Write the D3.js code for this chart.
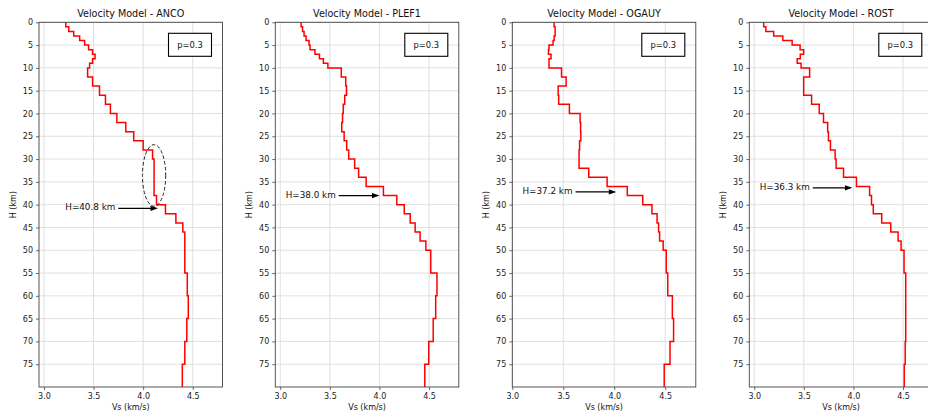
<!DOCTYPE html>
<html>
<head>
<meta charset="utf-8">
<script src="https://cdn.jsdelivr.net/npm/d3@7/dist/d3.min.js"></script>
<style>
  html, body { margin: 0; padding: 0; background: #fff; }
  svg { display: block; font-family: "DejaVu Sans", sans-serif; }
</style>
</head>
<body>
<svg id="chart" width="928" height="411"></svg>
<script>
// Shear-wave velocity models (Vs, km/s) for four stations, layered by depth (km)
const stations = ["ANCO", "PLEF1", "OGAUY", "ROST"];

// Top of each layer (km); the last layer ends at modelBase
const layerTops = [0, 1, 2, 3, 4, 5, 6, 7, 8, 9,
  10, 12, 14, 16, 18, 20, 22, 24, 26, 28,
  30, 32, 34, 36, 38, 40, 42, 44, 46, 48,
  50, 55, 60, 65, 70, 75];
const modelBase = 80;

const vsANCO = [3.22, 3.25, 3.30, 3.36, 3.41, 3.45, 3.49, 3.515, 3.49, 3.46,
  3.44, 3.49, 3.56, 3.62, 3.67, 3.735, 3.825, 3.905, 4.00, 4.095,
  4.11, 4.11, 4.11, 4.11, 4.135, 4.225, 4.33, 4.40, 4.42, 4.42,
  4.42, 4.445, 4.455, 4.44, 4.42, 4.395];
const vsPLEF1 = [3.21, 3.225, 3.24, 3.26, 3.29, 3.30, 3.35, 3.395, 3.435, 3.48,
  3.615, 3.66, 3.668, 3.65, 3.635, 3.628, 3.62, 3.644, 3.67, 3.69,
  3.75, 3.79, 3.866, 4.04, 4.175, 4.25, 4.31, 4.36, 4.41, 4.468,
  4.517, 4.58, 4.567, 4.542, 4.497, 4.457];
const vsOGAUY = [3.41, 3.42, 3.42, 3.41, 3.40, 3.36, 3.355, 3.38, 3.36, 3.36,
  3.483, 3.528, 3.45, 3.455, 3.56, 3.665, 3.67, 3.672, 3.66, 3.655,
  3.655, 3.75, 3.93, 4.128, 4.28, 4.37, 4.42, 4.435, 4.445, 4.48,
  4.51, 4.525, 4.57, 4.582, 4.547, 4.49];
const vsROST = [3.095, 3.117, 3.196, 3.288, 3.382, 3.462, 3.498, 3.464, 3.433, 3.472,
  3.558, 3.498, 3.498, 3.578, 3.655, 3.698, 3.74, 3.748, 3.768, 3.815,
  3.825, 3.9, 4.03, 4.163, 4.182, 4.2, 4.285, 4.376, 4.45, 4.48,
  4.51, 4.527, 4.527, 4.527, 4.522, 4.512];
const vsModels = [vsANCO, vsPLEF1, vsOGAUY, vsROST];

// Moho depth picks and where their labels / arrows sit
const mohoDepth = [40.8, 38.0, 37.2, 36.3];
const arrowTipVs = [4.15, 4.0, 4.02, 3.99];
const labelVs = [3.215, 3.055, 3.10, 3.055];
const paramLabel = "p=0.3";

// Highlighted zone on the ANCO model (centre and full size in data units)
const zoneCentre = [4.11, 33.6];
const zoneSize = [0.235, 13.5];

// Axis ranges and ticks
const vsMin = [2.95, 2.95, 3.0, 2.95];
const vsMax = 4.8;
const vsTicks = [3.0, 3.5, 4.0, 4.5];
const depthTicks = [0, 5, 10, 15, 20, 25, 30, 35, 40, 45, 50, 55, 60, 65, 70, 75];

// Panel geometry
const panelLeft = [39, 275.3, 512.3, 749.3];
const panelTop = 22.3, panelW = 183.5, panelH = 364.7;

const svg = d3.select("#chart");

stations.forEach((name, i) => {
  const g = svg.append("g").attr("transform", `translate(${panelLeft[i]},${panelTop})`);
  const x = d3.scaleLinear().domain([vsMin[i], vsMax]).range([0, panelW]);
  const y = d3.scaleLinear().domain([0, modelBase]).range([0, panelH]);

  // grid
  g.append("g").selectAll("line").data(vsTicks).join("line")
    .attr("x1", d => x(d)).attr("x2", d => x(d))
    .attr("y1", 0).attr("y2", panelH)
    .attr("stroke", "#dcdcdc").attr("stroke-width", 0.9);
  g.append("g").selectAll("line").data(depthTicks).join("line")
    .attr("y1", d => y(d)).attr("y2", d => y(d))
    .attr("x1", 0).attr("x2", panelW)
    .attr("stroke", "#dcdcdc").attr("stroke-width", 0.9);

  // axes
  const xAxis = d3.axisBottom(x).tickValues(vsTicks).tickFormat(d3.format(".1f"))
    .tickSize(3).tickPadding(3);
  const yAxis = d3.axisLeft(y).tickValues(depthTicks).tickFormat(d3.format("d"))
    .tickSize(3).tickPadding(3);
  const gx = g.append("g").attr("transform", `translate(0,${panelH})`).call(xAxis);
  const gy = g.append("g").call(yAxis);
  [gx, gy].forEach(a => {
    a.select(".domain").remove();
    a.selectAll(".tick line").attr("stroke", "#444").attr("stroke-width", 0.8);
    a.selectAll(".tick text").attr("fill", "#222").attr("font-size", 8)
      .attr("font-family", "DejaVu Sans, sans-serif");
  });

  // velocity step profile
  const vs = vsModels[i];
  const pts = [];
  vs.forEach((v, k) => {
    const top = layerTops[k];
    const bot = k + 1 < layerTops.length ? layerTops[k + 1] : modelBase;
    pts.push([v, top], [v, bot]);
  });
  g.append("path").datum(pts)
    .attr("d", d3.line().x(d => x(d[0])).y(d => y(d[1])))
    .attr("fill", "none").attr("stroke", "#ff0000").attr("stroke-width", 1.5)
    .attr("stroke-linejoin", "miter");

  // dashed ellipse marking the low-gradient zone on ANCO
  if (i === 0) {
    g.append("ellipse")
      .attr("cx", x(zoneCentre[0])).attr("cy", y(zoneCentre[1]))
      .attr("rx", x(zoneCentre[0] + zoneSize[0] / 2) - x(zoneCentre[0]))
      .attr("ry", y(zoneCentre[1] + zoneSize[1] / 2) - y(zoneCentre[1]))
      .attr("fill", "none").attr("stroke", "#222").attr("stroke-width", 1)
      .attr("stroke-dasharray", "3.5,2.2");
  }

  // frame
  g.append("rect").attr("width", panelW).attr("height", panelH)
    .attr("fill", "none").attr("stroke", "#444").attr("stroke-width", 0.9);

  // Moho annotation
  const hy = y(mohoDepth[i]);
  const label = g.append("text")
    .attr("x", x(labelVs[i])).attr("y", hy + 2.2)
    .attr("font-size", 8.8).attr("fill", "#111")
    .text(`H=${mohoDepth[i].toFixed(1)} km`);
  const textEnd = x(labelVs[i]) + label.node().getComputedTextLength();
  const tipX = x(arrowTipVs[i]);
  const headL = 7.5, headW = 2.6;
  g.append("line")
    .attr("x1", textEnd + 3).attr("x2", tipX - headL + 0.5)
    .attr("y1", hy).attr("y2", hy)
    .attr("stroke", "#000").attr("stroke-width", 1.2);
  g.append("path")
    .attr("d", `M${tipX},${hy} L${tipX - headL},${hy - headW} L${tipX - headL},${hy + headW} Z`)
    .attr("fill", "#000");

  // parameter box
  const bw = 43, bh = 23;
  const bx = panelW - 11 - bw, by = 11;
  g.append("rect").attr("x", bx).attr("y", by).attr("width", bw).attr("height", bh)
    .attr("fill", "#fff").attr("stroke", "#000").attr("stroke-width", 1.1);
  g.append("text").attr("x", bx + bw / 2).attr("y", by + bh / 2 + 3)
    .attr("text-anchor", "middle").attr("font-size", 8.4).attr("fill", "#111")
    .text(paramLabel);

  // title
  g.append("text").attr("x", panelW / 2).attr("y", -5.6)
    .attr("text-anchor", "middle").attr("font-size", 9.6).attr("fill", "#111")
    .text(`Velocity Model - ${name}`);

  // axis labels
  g.append("text").attr("x", panelW / 2).attr("y", panelH + 23.5)
    .attr("text-anchor", "middle").attr("font-size", 8).attr("fill", "#111")
    .text("Vs (km/s)");
  g.append("text")
    .attr("transform", `translate(-23.5,${panelH / 2}) rotate(-90)`)
    .attr("text-anchor", "middle").attr("font-size", 8).attr("fill", "#111")
    .text("H (km)");
});
</script>
</body>
</html>
